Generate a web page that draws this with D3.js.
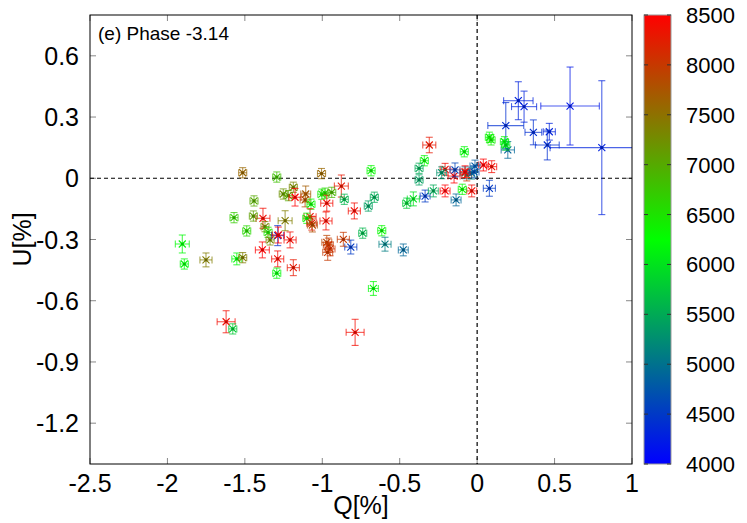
<!DOCTYPE html>
<html><head><meta charset="utf-8">
<script src="https://cdn.jsdelivr.net/npm/d3@7"></script>
<style>body{margin:0;background:#fff}svg{display:block;font-family:"Liberation Sans",Arial,sans-serif}</style>
</head><body><svg id="c" width="747" height="523"></svg>
<script>
const titleText = "(e) Phase -3.14";
const xTicks = [-2.5,-2,-1.5,-1,-0.5,0,0.5,1];
const xTickLabels = ["-2.5","-2","-1.5","-1","-0.5","0","0.5","1"];
const yTicks = [0.6,0.3,0,-0.3,-0.6,-0.9,-1.2];
const yTickLabels = ["0.6","0.3","0","-0.3","-0.6","-0.9","-1.2"];
const cbTicks = [4000,4500,5000,5500,6000,6500,7000,7500,8000,8500];

const qVals = [0.266,0.303,0.185,0.600,0.805,0.363,0.466,0.453,0.198,0.079,
0.090,0.176,0.185,0.040,0.094,0.079,-0.035,-0.309,-0.083,-0.341,
-0.375,-0.375,-0.207,-0.229,-0.149,-0.143,-0.078,-0.067,-0.035,-0.078,
-0.014,-0.020,-0.336,-0.283,-0.207,-0.096,-0.136,-0.412,-0.455,-0.664,
-0.703,-0.616,-0.595,-0.477,-0.739,-0.816,-0.864,-0.971,-0.961,-0.950,
-0.965,-0.670,-0.788,-1.621,-1.578,-1.294,-1.005,-0.685,-1.514,-0.877,
-0.858,-0.793,-1.252,-1.219,-1.187,-1.176,-1.107,-1.111,-1.073,-1.003,
-0.982,-0.971,-0.939,-1.079,-1.100,-1.068,-1.064,-0.976,-1.240,-1.383,
-1.370,-1.350,-1.337,-1.288,-1.284,-1.208,-1.387,-1.288,-1.187,-1.294,
-1.441,-1.445,-1.570,-1.488,-1.904,-1.891,-1.751,-1.552,-1.514];

const uVals = [0.380,0.351,0.258,0.354,0.150,0.225,0.228,0.163,0.139,0.201,
0.188,0.179,0.163,0.065,0.057,-0.049,-0.062,0.163,0.130,0.086,
0.049,-0.008,0.044,0.027,0.011,0.041,0.027,0.016,0.025,0.032,
0.060,0.031,-0.087,-0.062,-0.062,-0.054,-0.106,-0.101,-0.122,-0.093,
-0.136,-0.257,-0.323,-0.351,-0.269,-0.337,-0.299,-0.314,-0.327,-0.346,
-0.363,-0.540,-0.755,-0.703,-0.738,0.006,0.023,0.037,0.027,-0.038,
-0.103,-0.160,-0.077,-0.085,-0.044,-0.093,-0.077,-0.106,-0.127,-0.078,
-0.073,-0.122,-0.069,-0.188,-0.196,-0.220,-0.229,-0.209,-0.208,-0.196,
-0.237,-0.265,-0.302,-0.281,-0.278,-0.302,-0.351,-0.395,-0.438,-0.465,
-0.111,-0.185,-0.193,-0.258,-0.322,-0.420,-0.400,-0.395,-0.389];

const qErr = [0.095,0.081,0.116,0.189,0.334,0.054,0.039,0.077,0.043,0.026,
0.026,0.026,0.026,0.032,0.032,0.039,0.032,0.042,0.026,0.026,
0.026,0.026,0.032,0.032,0.039,0.032,0.032,0.032,0.032,0.032,
0.032,0.032,0.032,0.032,0.032,0.026,0.032,0.039,0.026,0.026,
0.026,0.026,0.039,0.032,0.026,0.039,0.039,0.032,0.032,0.032,
0.032,0.032,0.058,0.058,0.026,0.026,0.026,0.026,0.026,0.045,
0.026,0.039,0.026,0.026,0.026,0.039,0.032,0.032,0.026,0.026,
0.026,0.039,0.026,0.039,0.026,0.032,0.032,0.039,0.045,0.045,
0.026,0.026,0.026,0.039,0.039,0.039,0.045,0.039,0.039,0.026,
0.026,0.026,0.026,0.026,0.045,0.026,0.039,0.032,0.026];

const uErr = [0.093,0.076,0.113,0.191,0.328,0.061,0.041,0.073,0.041,0.025,
0.025,0.025,0.025,0.029,0.029,0.039,0.029,0.038,0.025,0.025,
0.025,0.025,0.029,0.029,0.034,0.034,0.029,0.029,0.029,0.029,
0.029,0.029,0.029,0.029,0.029,0.025,0.029,0.034,0.025,0.025,
0.025,0.025,0.034,0.029,0.025,0.034,0.034,0.034,0.034,0.034,
0.039,0.034,0.064,0.054,0.025,0.025,0.025,0.025,0.025,0.054,
0.025,0.039,0.025,0.025,0.025,0.043,0.039,0.034,0.025,0.025,
0.025,0.039,0.025,0.039,0.025,0.034,0.034,0.044,0.049,0.049,
0.025,0.025,0.025,0.049,0.039,0.039,0.039,0.039,0.039,0.025,
0.025,0.025,0.025,0.025,0.044,0.025,0.034,0.029,0.025];

const waveVals = [4300,4300,4400,4200,4300,4400,4300,4400,4900,6300,
6400,6200,6000,8500,8400,4500,8400,8300,6200,6300,
5500,5400,8400,5300,8500,4600,5000,8000,5100,8500,
4800,4700,4500,5500,8500,6300,4900,6000,5800,5500,
5400,6300,5100,4900,5600,4500,8000,7900,8000,8100,
8000,6200,8400,8400,5800,6800,7600,6300,7600,8300,
5600,8400,7200,7000,7300,8500,7700,7800,6300,6400,
6600,8400,6900,8400,6300,8300,7800,8400,7400,8400,
7300,6500,7300,4400,8500,8400,8500,8400,8300,6200,
7000,7100,6700,6600,6200,6200,7400,6200,7400];

const svg = d3.select("#c");
const L=90, R=632, T=15, B=464;
const x = d3.scaleLinear().domain([-2.5,1]).range([L,R]);
const y = d3.scaleLinear().domain([-1.4,0.8]).range([B,T]);
const color = d3.scaleLinear().domain([4000,6250,8500]).range(["#0000ff","#00ff00","#ff0000"]);

svg.append("defs").append("clipPath").attr("id","clip")
  .append("rect").attr("x",L).attr("y",T).attr("width",R-L).attr("height",B-T);

// ticks (inside, mirrored)
const tk = 6;
const tg = svg.append("g").attr("stroke","#888").attr("stroke-width",1);
xTicks.forEach(v=>{
  tg.append("line").attr("x1",x(v)).attr("x2",x(v)).attr("y1",B).attr("y2",B-tk);
  tg.append("line").attr("x1",x(v)).attr("x2",x(v)).attr("y1",T).attr("y2",T+tk);
});
yTicks.forEach(v=>{
  tg.append("line").attr("y1",y(v)).attr("y2",y(v)).attr("x1",L).attr("x2",L+tk);
  tg.append("line").attr("y1",y(v)).attr("y2",y(v)).attr("x1",R).attr("x2",R-tk);
});

// zero lines
svg.append("line").attr("x1",L).attr("x2",R).attr("y1",y(0)).attr("y2",y(0))
  .attr("stroke","#000").attr("stroke-width",1.2).attr("stroke-dasharray","4,3");
svg.append("line").attr("x1",x(0)).attr("x2",x(0)).attr("y1",T).attr("y2",B)
  .attr("stroke","#000").attr("stroke-width",1.2).attr("stroke-dasharray","4,3");

// points
const pts = d3.range(qVals.length).map(i=>({q:qVals[i],u:uVals[i],dq:qErr[i],du:uErr[i],w:waveVals[i]}));
const pg = svg.append("g").attr("clip-path","url(#clip)");
const cap = 3.5, ms = 3.5;
pts.forEach(p=>{
  const c = color(p.w);
  const cx = x(p.q), cy = y(p.u);
  const x0 = x(p.q-p.dq), x1 = x(p.q+p.dq), y0 = y(p.u-p.du), y1 = y(p.u+p.du);
  const g = pg.append("g").attr("stroke",c).attr("stroke-width",1.1).attr("fill","none");
  const eb = g.append("g").attr("stroke-opacity",0.7);
  eb.append("line").attr("x1",x0).attr("x2",x1).attr("y1",cy).attr("y2",cy);
  eb.append("line").attr("x1",x0).attr("x2",x0).attr("y1",cy-cap).attr("y2",cy+cap);
  eb.append("line").attr("x1",x1).attr("x2",x1).attr("y1",cy-cap).attr("y2",cy+cap);
  eb.append("line").attr("x1",cx).attr("x2",cx).attr("y1",y0).attr("y2",y1);
  eb.append("line").attr("x1",cx-cap).attr("x2",cx+cap).attr("y1",y0).attr("y2",y0);
  eb.append("line").attr("x1",cx-cap).attr("x2",cx+cap).attr("y1",y1).attr("y2",y1);
  g.append("line").attr("x1",cx-ms).attr("x2",cx+ms).attr("y1",cy-ms).attr("y2",cy+ms);
  g.append("line").attr("x1",cx-ms).attr("x2",cx+ms).attr("y1",cy+ms).attr("y2",cy-ms);
  g.append("circle").attr("cx",cx).attr("cy",cy).attr("r",1.6).attr("fill",d3.color(c).darker(0.6)).attr("stroke","none");
});

// frame
svg.append("rect").attr("x",L).attr("y",T).attr("width",R-L).attr("height",B-T)
  .attr("fill","none").attr("stroke","#000").attr("stroke-width",1);

// tick labels
svg.append("g").selectAll("text").data(xTicks).join("text")
  .attr("x",d=>x(d)).attr("y",492).attr("text-anchor","middle")
  .attr("font-size",25).text((d,i)=>xTickLabels[i]);
svg.append("g").selectAll("text").data(yTicks).join("text")
  .attr("x",79).attr("y",d=>y(d)+9).attr("text-anchor","end")
  .attr("font-size",25).text((d,i)=>yTickLabels[i]);

// axis labels
svg.append("text").attr("x",(L+R)/2).attr("y",514).attr("text-anchor","middle").attr("font-size",25).text("Q[%]");
svg.append("text").attr("transform",`translate(31,${(T+B)/2}) rotate(-90)`).attr("text-anchor","middle").attr("font-size",25).text("U[%]");

// title
svg.append("text").attr("x",98).attr("y",40).attr("font-size",19).text(titleText);

// colorbar
const cbL=644, cbR=671;
const cy2 = d3.scaleLinear().domain([4000,8500]).range([B,T]);
const grad = svg.select("defs").append("linearGradient").attr("id","cbg")
  .attr("x1",0).attr("y1",1).attr("x2",0).attr("y2",0);
[4000,6250,8500].forEach(v=>grad.append("stop").attr("offset",(v-4000)/4500).attr("stop-color",color(v)));
svg.append("rect").attr("x",cbL).attr("y",T).attr("width",cbR-cbL).attr("height",B-T)
  .attr("fill","url(#cbg)").attr("stroke","#999").attr("stroke-width",1);
const cg = svg.append("g").attr("stroke","#333").attr("stroke-width",1);
cbTicks.forEach(v=>{
  cg.append("line").attr("x1",cbL).attr("x2",cbL+4).attr("y1",cy2(v)).attr("y2",cy2(v));
  cg.append("line").attr("x1",cbR).attr("x2",cbR-4).attr("y1",cy2(v)).attr("y2",cy2(v));
});
svg.append("g").selectAll("text").data(cbTicks).join("text")
  .attr("x",686).attr("y",d=>cy2(d)+8).attr("font-size",22).text(d=>d);
</script></body></html>
